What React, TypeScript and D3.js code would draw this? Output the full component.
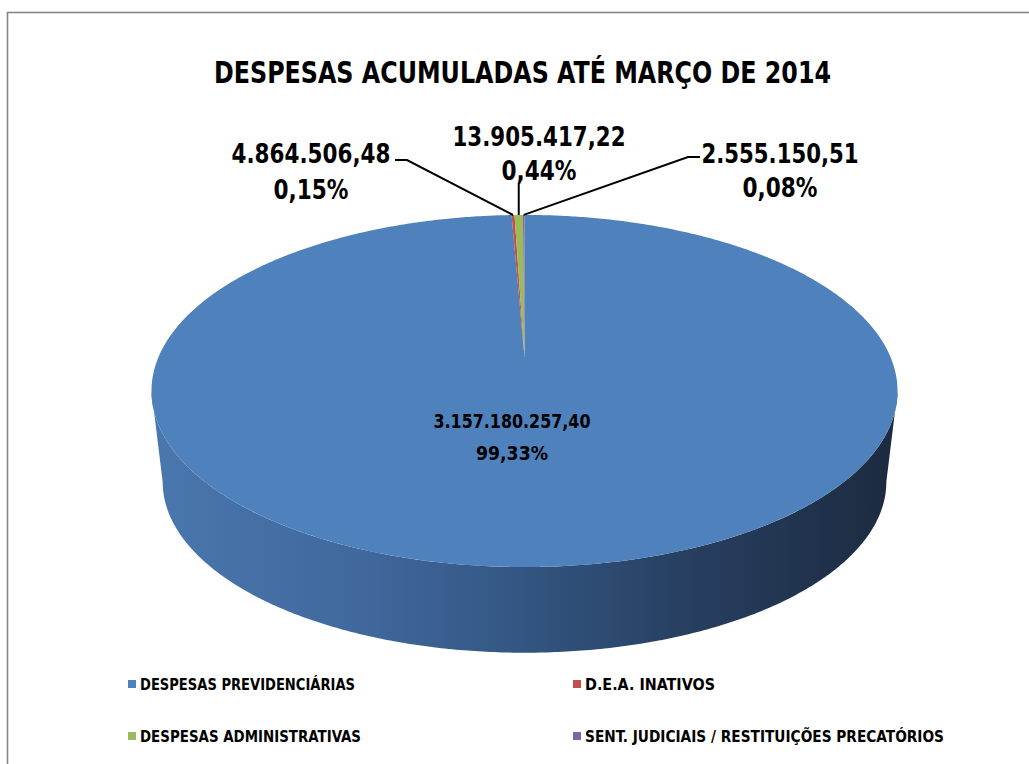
import React from "react";
import * as d3 from "d3";

const categories = [
  "DESPESAS PREVIDENCIÁRIAS",
  "D.E.A. INATIVOS",
  "DESPESAS ADMINISTRATIVAS",
  "SENT. JUDICIAIS / RESTITUIÇÕES PRECATÓRIOS",
];
const values = [3157180257.4, 4864506.48, 13905417.22, 2555150.51];
const colors = ["#4f81bd", "#c0504d", "#9bbb59", "#8064a2"];
const title = "DESPESAS ACUMULADAS ATÉ MARÇO DE 2014";

// label layout (page coords): text center, baselines, text widths, leader start
const labelLayout = [
  { cx: 512, y1: 428, y2: 460, size: 20, w1: 157, w2: 72, leader: null as null | number[][] },
  { cx: 311, y1: 163, y2: 199, size: 26, w1: 159, w2: 75, leader: [[395, 160], [407, 160]] },
  { cx: 539, y1: 146, y2: 180, size: 26, w1: 173, w2: 75, leader: [[518, 184]] },
  { cx: 780, y1: 163, y2: 197, size: 26, w1: 157, w2: 75, leader: [[700, 157], [688, 157]] },
];
const legendLayout = [
  { x: 128, y: 684, w: 215 },
  { x: 573, y: 684, w: 130 },
  { x: 128, y: 736, w: 221 },
  { x: 573, y: 736, w: 359 },
];

const FONT = "'Liberation Sans Narrow', 'DejaVu Sans Condensed', 'Liberation Sans', sans-serif";

// perspective pie geometry
const CX = 524.5;
const CY = 357;
const A = 366;
const B = 169.5;
const P = 0.193;
const S2 = 0.97;
const CY2 = 449;

function proj(theta: number, bottom = false): [number, number] {
  const X = Math.sin(theta);
  const Z = -Math.cos(theta);
  const w = 1 - P * Z;
  if (bottom) return [CX + (S2 * A * X) / w, CY2 + (S2 * B * Z) / w];
  return [CX + (A * X) / w, CY + (B * Z) / w];
}

function arcPts(a0: number, a1: number, bottom = false): [number, number][] {
  const n = Math.max(2, Math.ceil(Math.abs(a1 - a0) / (Math.PI / 360)));
  const pts: [number, number][] = [];
  for (let i = 0; i <= n; i++) pts.push(proj(a0 + ((a1 - a0) * i) / n, bottom));
  return pts;
}

const locale = d3.formatLocale({ decimal: ",", thousands: ".", grouping: [3], currency: ["R$", ""] });
const fmtVal = locale.format(",.2f");
const fmtPct = locale.format(".2%");

export default function App() {
  const arcs = d3.pie<number>().sort(null).value((d) => d)(values);
  const total = d3.sum(values);
  const line = d3.line();

  const thR = Math.atan2(Math.sqrt(1 - P * P), -P);
  const thL = 2 * Math.PI - thR;
  const sidePts = [...arcPts(thR, thL), ...arcPts(thL, thR, true)];
  const sidePath = line(sidePts) + "Z";

  return (
    <svg width={1029} height={764} style={{ position: "absolute", left: 0, top: 0 }} fontFamily={FONT}>
      <defs>
        <linearGradient id="side" gradientUnits="userSpaceOnUse" x1={151} x2={897} y1={0} y2={0}>
          <stop offset="0" stopColor="#4a77af" />
          <stop offset="0.3" stopColor="#3f679b" />
          <stop offset="0.5" stopColor="#335581" />
          <stop offset="0.72" stopColor="#273f60" />
          <stop offset="1" stopColor="#1c2a3f" />
        </linearGradient>
      </defs>
      <rect x={0} y={0} width={1029} height={764} fill="#ffffff" />
      <rect x={7.5} y={12.5} width={1100} height={800} fill="none" stroke="#868686" strokeWidth={1.6} />
      <text x={522.5} y={83} textAnchor="middle" fontWeight="bold" fontSize={30} textLength={617} lengthAdjust="spacingAndGlyphs">
        {title}
      </text>

      <path d={sidePath} fill="url(#side)" />
      {arcs.map((a, i) => {
        const pts: [number, number][] = [[CX, CY], ...arcPts(a.startAngle, a.endAngle)];
        return <path key={i} d={line(pts) + "Z"} fill={colors[i]} />;
      })}

      {arcs.map((a, i) => {
        const L = labelLayout[i];
        const mid = (a.startAngle + a.endAngle) / 2;
        const [mx, my] = proj(mid);
        let leader = null;
        if (L.leader) {
          const pts = L.leader.map((p) => [p[0], p[1]] as [number, number]);
          if (pts.length === 1) pts[0] = [mx, pts[0][1]];
          pts.push([mx, my]);
          leader = <path d={line(pts)!} fill="none" stroke="#000" strokeWidth={2} />;
        }
        return (
          <g key={i}>
            {leader}
            <text x={L.cx} y={L.y1} textAnchor="middle" fontWeight="bold" fontSize={L.size} textLength={L.w1} lengthAdjust="spacingAndGlyphs">
              {fmtVal(values[i])}
            </text>
            <text x={L.cx} y={L.y2} textAnchor="middle" fontWeight="bold" fontSize={L.size} textLength={L.w2} lengthAdjust="spacingAndGlyphs">
              {fmtPct(values[i] / total)}
            </text>
          </g>
        );
      })}

      {categories.map((c, i) => {
        const L = legendLayout[i];
        return (
          <g key={c}>
            <rect x={L.x} y={L.y - 4} width={8} height={8} fill={colors[i]} />
            <text x={L.x + 12} y={L.y + 6} fontWeight="bold" fontSize={15} textLength={L.w} lengthAdjust="spacingAndGlyphs">
              {c}
            </text>
          </g>
        );
      })}
    </svg>
  );
}
